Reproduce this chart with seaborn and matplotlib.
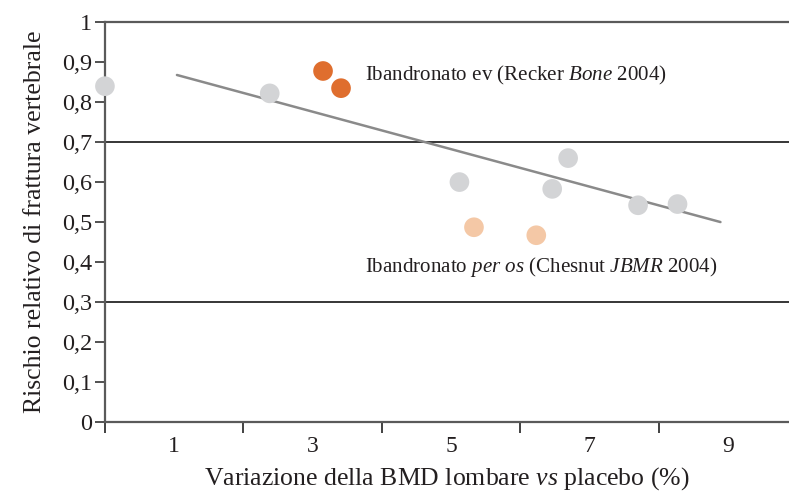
import pandas as pd
import matplotlib.pyplot as plt
import seaborn as sns
from matplotlib.ticker import FixedLocator

# Dati
x_studi = [0.0, 2.38, 5.12, 6.46, 6.69, 7.70, 8.27]
rr_studi = [0.84, 0.822, 0.60, 0.583, 0.66, 0.542, 0.545]
x_ev = [3.15, 3.41]
rr_ev = [0.878, 0.835]
x_os = [5.33, 6.23]
rr_os = [0.487, 0.467]
x_retta = [1.04, 8.89]
rr_retta = [0.868, 0.50]

x_tick_pos = [1, 3, 5, 7, 9]
x_tick_labels = ["1", "3", "5", "7", "9"]
y_tick_pos = [0, 0.1, 0.2, 0.3, 0.4, 0.5, 0.6, 0.7, 0.8, 0.9, 1.0]
y_tick_labels = ["0", "0,1", "0,2", "0,3", "0,4", "0,5", "0,6", "0,7", "0,8", "0,9", "1"]

data = pd.DataFrame({
    "x": x_studi + x_ev + x_os,
    "rr": rr_studi + rr_ev + rr_os,
    "gruppo": ["altri"] * len(x_studi) + ["ev"] * len(x_ev) + ["os"] * len(x_os),
})
retta = pd.DataFrame({"x": x_retta, "rr": rr_retta})

sns.set_style("white")
plt.rcParams["font.family"] = ["Liberation Serif", "DejaVu Serif"]
plt.rcParams["mathtext.fontset"] = "custom"
plt.rcParams["mathtext.rm"] = "Liberation Serif"
plt.rcParams["mathtext.it"] = "Liberation Serif:italic"

fig = plt.figure(figsize=(7.89, 4.94), dpi=100)
ax = fig.add_axes([0.133, 0.146, 0.867, 0.809])

ax.axhline(0.7, color="black", lw=1.1, zorder=1)
ax.axhline(0.3, color="black", lw=1.1, zorder=1)

sns.lineplot(data=retta, x="x", y="rr", color="#8a8a8a", lw=1.8, ax=ax, zorder=2)
sns.scatterplot(data=data, x="x", y="rr", hue="gruppo",
                palette={"altri": "#d3d4d6", "ev": "#df6e2e", "os": "#f4c8a6"},
                s=200, linewidth=0, legend=False, ax=ax, zorder=3, clip_on=False)

ax.text(3.75, 0.866, r"Ibandronato ev (Recker $\mathit{Bone}$ 2004)",
        fontsize=15.1, va="center", ha="left", color="#231f20")
ax.text(3.75, 0.388, r"Ibandronato $\mathit{per\ os}$ (Chesnut $\mathit{JBMR}$ 2004)",
        fontsize=15.1, va="center", ha="left", color="#231f20")

ax.set_xlim(0, 9.88)
ax.set_ylim(0, 1)

ax.xaxis.set_major_locator(FixedLocator([0, 2, 4, 6, 8]))
ax.set_xticklabels([])
ax.xaxis.set_minor_locator(FixedLocator(x_tick_pos))
ax.set_xticklabels(x_tick_labels, minor=True)
ax.tick_params(axis="x", which="major", direction="out", length=8, width=1.3, color="#333333", bottom=True)
ax.tick_params(axis="x", which="minor", length=0, pad=10, labelsize=17, labelcolor="#231f20")

ax.set_yticks(y_tick_pos)
ax.set_yticklabels(y_tick_labels)
ax.tick_params(axis="y", direction="out", length=7, width=1.2, color="#333333", left=True,
               labelsize=17.5, labelcolor="#231f20", pad=2)

for side in ["left", "bottom", "top"]:
    ax.spines[side].set_color("#5a5a5a")
    ax.spines[side].set_linewidth(1.6)
ax.spines["right"].set_visible(False)

ax.set_xlabel(r"Variazione della BMD lombare $\mathit{vs}$ placebo (%)", fontsize=18.5,
              color="#231f20", labelpad=6)
ax.set_ylabel("Rischio relativo di frattura vertebrale", fontsize=18.5, color="#231f20", labelpad=12)

fig.savefig("out.png", dpi=100)
